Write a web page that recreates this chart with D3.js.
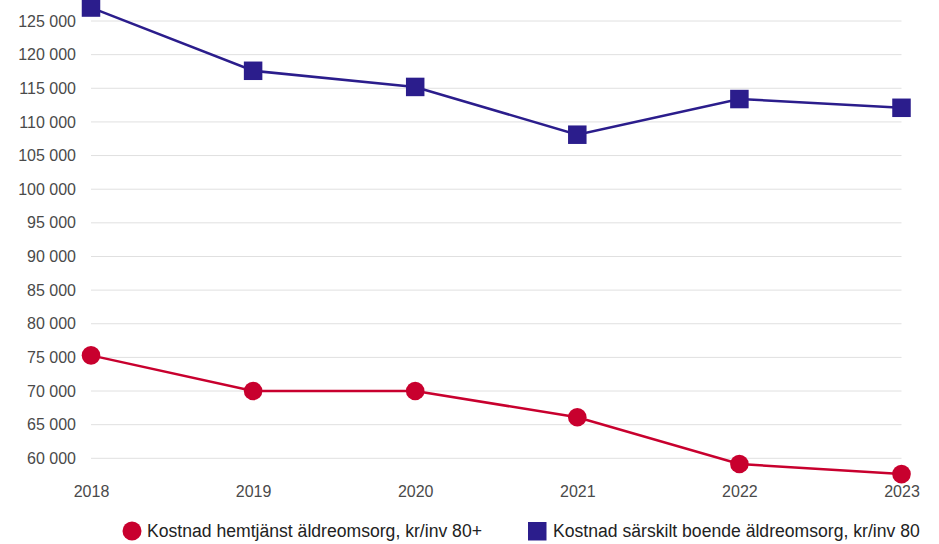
<!DOCTYPE html>
<html>
<head>
<meta charset="utf-8">
<script src="https://cdn.jsdelivr.net/npm/d3@7"></script>
<style>
  html, body { margin: 0; padding: 0; background: #fff; }
  svg { display: block; font-family: "Liberation Sans", Arial, sans-serif; }
</style>
</head>
<body>
<svg id="chart" width="939" height="544"></svg>
<script>
const years = ["2018", "2019", "2020", "2021", "2022", "2023"];
const hemtjanst = [75300, 70000, 70000, 66100, 59150, 57650];
const sarskilt = [127000, 117600, 115200, 108100, 113400, 112100];
const yTicks = [60000, 65000, 70000, 75000, 80000, 85000, 90000, 95000, 100000,
                105000, 110000, 115000, 120000, 125000];
const seriesNames = ["Kostnad hemtjänst äldreomsorg, kr/inv 80+",
                     "Kostnad särskilt boende äldreomsorg, kr/inv 80"];
const colors = ["#c8002e", "#2b1d8c"];

const svg = d3.select("#chart");
const left = 91, right = 901.5;

const x = d3.scalePoint().domain(years).range([left, right]);
const y = d3.scaleLinear().domain([60000, 125000]).range([458.3, 21]);

const fmt = v => d3.format(",")(v).replace(/,/g, " ");

// gridlines
svg.append("g")
  .selectAll("line").data(yTicks).join("line")
  .attr("x1", left).attr("x2", right)
  .attr("y1", d => y(d)).attr("y2", d => y(d))
  .attr("stroke", "#e0e0e0").attr("stroke-width", 1);

// y axis labels
const yAxis = d3.axisLeft(y).tickValues(yTicks).tickFormat(fmt).tickSize(0).tickPadding(0);
const yg = svg.append("g").attr("transform", "translate(76,0)").call(yAxis);
yg.select(".domain").remove();
yg.selectAll("text").attr("font-size", 16).attr("fill", "#4a4a4a")
  .attr("font-family", "Liberation Sans, Arial, sans-serif");

// x axis labels
const xAxis = d3.axisBottom(x).tickSize(0).tickPadding(0);
const xg = svg.append("g").attr("transform", "translate(0,486)").call(xAxis);
xg.select(".domain").remove();
xg.selectAll("text").attr("font-size", 16).attr("fill", "#4a4a4a")
  .attr("font-family", "Liberation Sans, Arial, sans-serif");

const line = d3.line().x((d, i) => x(years[i])).y(d => y(d));

// red series
svg.append("path").datum(hemtjanst).attr("d", line)
  .attr("fill", "none").attr("stroke", colors[0]).attr("stroke-width", 2.5);
svg.append("g").selectAll("circle").data(hemtjanst).join("circle")
  .attr("cx", (d, i) => x(years[i])).attr("cy", d => y(d)).attr("r", 9.3)
  .attr("fill", colors[0]);

// blue series
svg.append("path").datum(sarskilt).attr("d", line)
  .attr("fill", "none").attr("stroke", colors[1]).attr("stroke-width", 2.5);
const sq = 18.5;
svg.append("g").selectAll("rect").data(sarskilt).join("rect")
  .attr("x", (d, i) => x(years[i]) - sq / 2).attr("y", d => y(d) - sq / 2)
  .attr("width", sq).attr("height", sq)
  .attr("fill", colors[1]);

// legend
const lg = svg.append("g");
lg.append("circle").attr("cx", 132).attr("cy", 531).attr("r", 9.5).attr("fill", colors[0]);
lg.append("text").attr("x", 147).attr("y", 537).attr("font-size", 17.6).attr("fill", "#222")
  .text(seriesNames[0]);
lg.append("rect").attr("x", 528).attr("y", 522).attr("width", 18.5).attr("height", 18.5).attr("fill", colors[1]);
lg.append("text").attr("x", 553).attr("y", 537).attr("font-size", 17.6).attr("fill", "#222")
  .text(seriesNames[1]);
</script>
</body>
</html>
